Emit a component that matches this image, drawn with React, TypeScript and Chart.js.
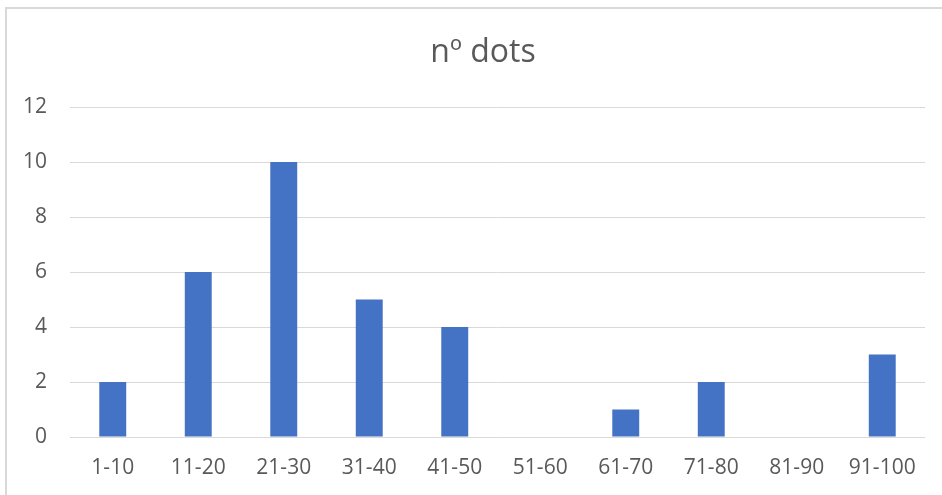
import React, { useEffect, useRef } from "react";
import { Chart, registerables } from "chart.js";

Chart.register(...registerables);

const categories = ["1-10", "11-20", "21-30", "31-40", "41-50", "51-60", "61-70", "71-80", "81-90", "91-100"];
const dotCounts = [2, 6, 10, 5, 4, 0, 1, 2, 0, 3];
const titleText = "nº dots";
const yMax = 12;
const yStep = 2;

const FONT = "'Open Sans', 'Liberation Sans', Arial, sans-serif";

export default function App() {
  const ref = useRef<HTMLCanvasElement>(null);

  useEffect(() => {
    if (!ref.current) return;
    const chart = new Chart(ref.current, {
      type: "bar",
      data: {
        labels: categories,
        datasets: [
          {
            label: titleText,
            data: dotCounts,
            backgroundColor: "#4472c4",
            borderWidth: 0,
            barPercentage: 0.315,
            categoryPercentage: 1,
          },
        ],
      },
      options: {
        responsive: false,
        animation: false,
        layout: { padding: { left: 24, right: 0, top: 0, bottom: 0 } },
        plugins: {
          legend: { display: false },
          tooltip: { enabled: false },
          title: {
            display: true,
            text: titleText,
            color: "#595959",
            font: { family: FONT, size: 32, weight: "normal", lineHeight: 1.2 },
            padding: { top: 34, bottom: 34.6 },
          },
        },
        scales: {
          x: {
            grid: { display: false, drawTicks: false },
            border: { display: false },
            ticks: {
              color: "#595959",
              font: { family: FONT, size: 21 },
              padding: 18,
              maxRotation: 0,
              autoSkip: false,
            },
            afterFit: (s: any) => {
              s.height = 58;
            },
          },
          y: {
            min: 0,
            max: yMax,
            grid: { color: "#d9d9d9", lineWidth: 1, drawTicks: false },
            border: { display: false },
            ticks: {
              stepSize: yStep,
              color: "#595959",
              font: { family: FONT, size: 21 },
              padding: 23,
            },
            afterFit: (s: any) => {
              s.width = 46;
            },
          },
          y1: {
            position: "right",
            display: true,
            grid: { display: false, drawTicks: false },
            border: { display: false },
            ticks: { display: false },
            afterFit: (s: any) => {
              s.width = 17;
            },
          },
        },
      },
    });
    return () => chart.destroy();
  }, []);

  return (
    <div style={{ position: "fixed", left: 0, top: 0, width: 942, height: 495, overflow: "hidden", background: "#fff" }}>
      <div
        style={{
          position: "absolute",
          left: 5,
          top: 7,
          width: 1000,
          height: 1000,
          border: "2px solid #d9d9d9",
          boxSizing: "border-box",
        }}
      />
      <canvas ref={ref} width={942} height={495} style={{ position: "absolute", left: 0, top: 0, width: 942, height: 495 }} />
    </div>
  );
}
